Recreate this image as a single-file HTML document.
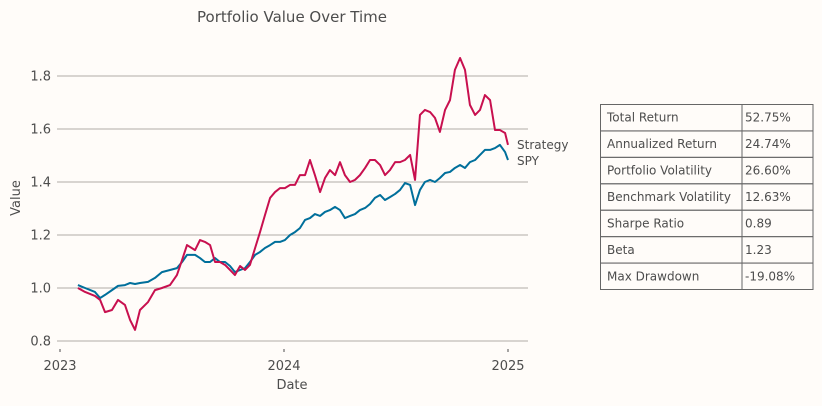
<!DOCTYPE html>
<html><head><meta charset="utf-8"><style>
body{margin:0;background:#fffcf9;}
svg text{font-family:"DejaVu Sans","Liberation Sans",sans-serif;fill:#4d4d4d;}
</style></head><body>
<svg width="822" height="401">
<rect width="822" height="401" fill="#fffcf9"/>
<text x="292" y="22" font-size="15" text-anchor="middle">Portfolio Value Over Time</text>
<g id="grid"></g><g id="series"></g><g id="axes"></g>
<text x="292" y="389" font-size="13" text-anchor="middle">Date</text>
<text transform="translate(20,198) rotate(-90)" font-size="13" text-anchor="middle">Value</text>
<text x="517" y="149" font-size="12">Strategy</text>
<text x="517" y="165" font-size="12">SPY</text>
<g id="table"></g>
</svg>
<script>
const dates=[.080,.112,.156,.179,.201,.232,.259,.290,.313,.335,.357,.393,.424,.455,.491,.522,.545,.567,.603,.625,.647,.670,.692,.714,.737,.759,.781,.804,.826,.848,.871,.893,.915,.938,.960,.982,1.004,1.027,1.049,1.071,1.094,1.116,1.138,1.161,1.183,1.205,1.228,1.25,1.272,1.295,1.317,1.339,1.362,1.384,1.406,1.429,1.451,1.473,1.496,1.518,1.540,1.563,1.585,1.607,1.629,1.652,1.674,1.696,1.719,1.741,1.763,1.786,1.808,1.830,1.853,1.875,1.897,1.920,1.942,1.964,1.987,2.0];
const strategy=[1.000,.985,.970,.955,.909,.917,.955,.936,.879,.842,.917,.947,.992,1.0,1.011,1.049,1.106,1.162,1.143,1.181,1.174,1.162,1.098,1.098,1.087,1.068,1.049,1.083,1.068,1.087,1.151,1.211,1.275,1.340,1.362,1.377,1.377,1.389,1.389,1.426,1.426,1.483,1.426,1.362,1.415,1.445,1.426,1.475,1.426,1.400,1.408,1.426,1.453,1.483,1.483,1.464,1.426,1.445,1.475,1.475,1.483,1.502,1.408,1.653,1.672,1.664,1.642,1.589,1.672,1.709,1.823,1.868,1.823,1.691,1.653,1.672,1.728,1.709,1.596,1.596,1.585,1.540];
const spy=[1.011,1.0,.985,.962,.974,.992,1.008,1.011,1.019,1.015,1.019,1.023,1.038,1.060,1.068,1.075,1.098,1.125,1.125,1.113,1.098,1.098,1.113,1.098,1.098,1.083,1.060,1.068,1.075,1.098,1.125,1.136,1.151,1.162,1.174,1.174,1.181,1.200,1.211,1.226,1.257,1.264,1.279,1.272,1.287,1.294,1.306,1.294,1.264,1.272,1.279,1.294,1.302,1.317,1.340,1.351,1.332,1.343,1.355,1.370,1.396,1.389,1.313,1.370,1.400,1.408,1.400,1.415,1.434,1.438,1.453,1.464,1.453,1.475,1.483,1.502,1.521,1.521,1.528,1.540,1.513,1.483];
const yTicks=[0.8,1.0,1.2,1.4,1.6,1.8];
const xTicks=[0,1,2];
const xTickLabels=["2023","2024","2025"];
const metricNames=["Total Return","Annualized Return","Portfolio Volatility","Benchmark Volatility","Sharpe Ratio","Beta","Max Drawdown"];
const metricValues=["52.75%","24.74%","26.60%","12.63%","0.89","1.23","-19.08%"];
const NS="http://www.w3.org/2000/svg";
const X=d=>60+d*224, Y=v=>288-(v-1)*265;
function mk(t,a,p){const e=document.createElementNS(NS,t);for(const k in a)e.setAttribute(k,a[k]);p.appendChild(e);return e;}
const grid=document.getElementById('grid'),axes=document.getElementById('axes'),ser=document.getElementById('series');
yTicks.forEach(v=>{
 const l=mk('line',{x1:57,x2:528,y1:Y(v),y2:Y(v),stroke:'#b0aca8','stroke-width':1},grid);
 
 
 const t=mk('text',{x:51,y:Y(v)+4.5,'font-size':13,'text-anchor':'end'},axes);t.textContent=v.toFixed(1);
 
 
});
xTicks.forEach((d,i)=>{
 const l=mk('line',{x1:X(d),x2:X(d),y1:349,y2:352,stroke:'#4d4d4d'},axes);
 
 
 const t=mk('text',{x:X(d),y:370,'font-size':13,'text-anchor':'middle'},axes);t.textContent=xTickLabels[i];
 
 
});
function line(vals,color,name){
 const p=mk('polyline',{points:vals.map((v,i)=>X(dates[i])+','+Y(v)).join(' '),fill:'none',stroke:color,'stroke-width':2,'stroke-linejoin':'round'},ser);
 
 
}
line(spy,'#006f9b','spy-line');
line(strategy,'#c8104f','strategy-line');
const tb=document.getElementById('table');
const rh=(289-104)/7;
metricNames.forEach((n,i)=>{
 const y=104+i*rh;
 const r=mk('rect',{x:600.5,y:y+.5,width:141.5,height:rh,fill:'none',stroke:'#666'},tb);
 
 
 const r2=mk('rect',{x:742,y:y+.5,width:71,height:rh,fill:'none',stroke:'#666'},tb);
 
 
 const t=mk('text',{x:607,y:y+rh/2+4.5,'font-size':12},tb);t.textContent=n;
 
 
 const t2=mk('text',{x:745,y:y+rh/2+4.5,'font-size':12},tb);t2.textContent=metricValues[i];
 
 
});
</script>
</body></html>
